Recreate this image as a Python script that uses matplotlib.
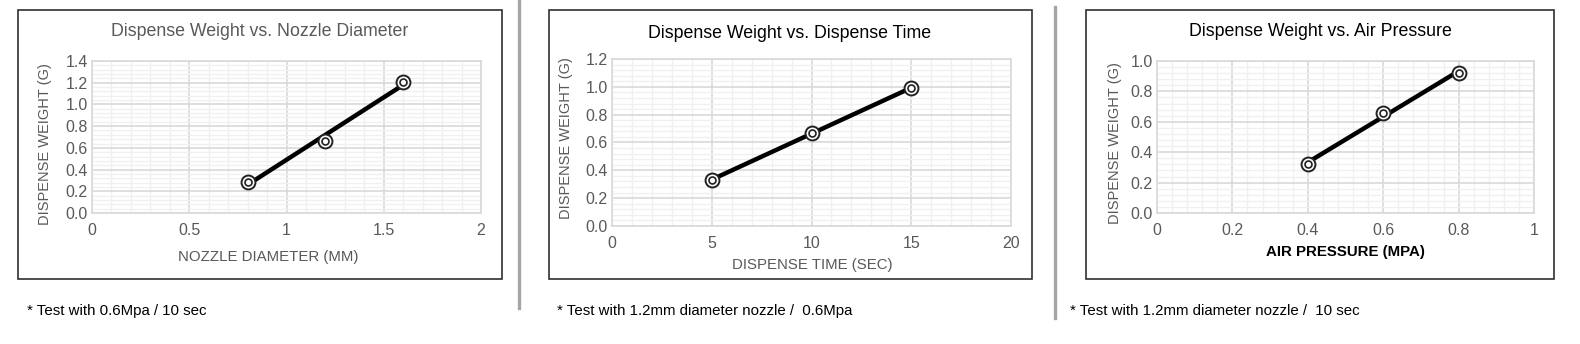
import numpy as np
import matplotlib
matplotlib.use('Agg')
import matplotlib.pyplot as plt
from matplotlib.patches import Rectangle
from matplotlib.lines import Line2D
from matplotlib.ticker import MultipleLocator

plt.rcParams['font.family'] = ['Liberation Sans', 'DejaVu Sans']

# -------------------------------------------------------------------
# Data
# -------------------------------------------------------------------
nozzle_mm = [0.8, 1.2, 1.6]
weight_by_nozzle = [0.29, 0.66, 1.21]

time_sec = [5, 10, 15]
weight_by_time = [0.33, 0.67, 0.99]

pressure_mpa = [0.4, 0.6, 0.8]
weight_by_pressure = [0.32, 0.66, 0.92]

W, H = 1580, 344
fig = plt.figure(figsize=(W / 100, H / 100), dpi=100)
fig.patch.set_facecolor('white')

GRAY_TXT = '#595959'
MAJ_GRID = '#d9d9d9'
MIN_GRID = '#f0f0f0'


def fx(px):
    return px / W


def fy(py):
    return 1 - py / H


def panel(box, area, x, y, xlim, ylim, xmaj, xmin, ymaj, ymin,
          title, title_pos, title_color, xlabel, xlabel_pos, xlabel_kw,
          ylabel_pos, note, note_pos, xfmt):
    # outer frame
    bx0, by0, bx1, by1 = box
    fig.patches.append(Rectangle((fx(bx0), fy(by1)), fx(bx1 - bx0), (by1 - by0) / H,
                                 transform=fig.transFigure, fill=False,
                                 edgecolor='#303030', linewidth=1.2))
    ax0, ay0, ax1, ay1 = area
    ax = fig.add_axes([fx(ax0), fy(ay1), fx(ax1 - ax0), (ay1 - ay0) / H])
    ax.set_xlim(*xlim)
    ax.set_ylim(*ylim)
    ax.xaxis.set_major_locator(MultipleLocator(xmaj))
    ax.xaxis.set_minor_locator(MultipleLocator(xmin))
    ax.yaxis.set_major_locator(MultipleLocator(ymaj))
    ax.yaxis.set_minor_locator(MultipleLocator(ymin))
    ax.grid(which='minor', color=MIN_GRID, linewidth=1.0)
    ax.grid(which='major', color=MAJ_GRID, linewidth=1.2)
    ax.set_axisbelow(True)
    for s in ax.spines.values():
        s.set_color(MAJ_GRID)
        s.set_linewidth(1.2)
    ax.tick_params(which='both', length=0, labelsize=11.5, labelcolor=GRAY_TXT)
    ax.tick_params(axis='x', pad=7)
    ax.tick_params(axis='y', pad=3)
    ax.yaxis.set_major_formatter(matplotlib.ticker.FormatStrFormatter('%.1f'))
    ax.xaxis.set_major_formatter(matplotlib.ticker.FuncFormatter(xfmt))

    # linear trend line over the measured range
    k, b = np.polyfit(x, y, 1)
    xs = np.array([min(x), max(x)])
    ax.plot(xs, k * xs + b, color='black', linewidth=3.2, solid_capstyle='butt', zorder=3)
    ax.plot(x, y, linestyle='none', marker='o', markersize=10, markerfacecolor='white',
            markeredgecolor='#222222', markeredgewidth=1.4, zorder=4)
    ax.plot(x, y, linestyle='none', marker='o', markersize=5, markerfacecolor='white',
            markeredgecolor='#222222', markeredgewidth=1.2, zorder=5)

    fig.text(fx(title_pos[0]), fy(title_pos[1]), title, ha='center', va='center',
             fontsize=12.8, color=title_color)
    fig.text(fx(xlabel_pos[0]), fy(xlabel_pos[1]), xlabel, ha='center', va='center',
             **xlabel_kw)
    fig.text(fx(ylabel_pos[0]), fy(ylabel_pos[1]), 'DISPENSE WEIGHT (G)', ha='center',
             va='center', rotation=90, fontsize=10.5, color=GRAY_TXT)
    fig.text(fx(note_pos[0]), fy(note_pos[1]), note, ha='left', va='center',
             fontsize=10.8, color='black')
    return ax


def num_fmt(v, pos):
    return ('%g' % round(v, 6))


panel(box=(18, 10, 502, 279), area=(92, 61, 481, 213),
      x=nozzle_mm, y=weight_by_nozzle, xlim=(0, 2), ylim=(0, 1.4),
      xmaj=0.5, xmin=0.1, ymaj=0.2, ymin=0.04,
      title='Dispense Weight vs. Nozzle Diameter', title_pos=(260, 32), title_color=GRAY_TXT,
      xlabel='NOZZLE DIAMETER (MM)', xlabel_pos=(268, 257),
      xlabel_kw=dict(fontsize=10.8, color=GRAY_TXT),
      ylabel_pos=(45, 144), note='* Test with 0.6Mpa / 10 sec', note_pos=(27, 311),
      xfmt=num_fmt)

panel(box=(549, 10, 1032, 279), area=(612, 59, 1011, 226),
      x=time_sec, y=weight_by_time, xlim=(0, 20), ylim=(0, 1.2),
      xmaj=5, xmin=1, ymaj=0.2, ymin=0.04,
      title='Dispense Weight vs. Dispense Time', title_pos=(790, 33), title_color='black',
      xlabel='DISPENSE TIME (SEC)', xlabel_pos=(812, 265),
      xlabel_kw=dict(fontsize=10.8, color=GRAY_TXT),
      ylabel_pos=(566, 138), note='* Test with 1.2mm diameter nozzle /  0.6Mpa',
      note_pos=(557, 311), xfmt=num_fmt)

panel(box=(1086, 10, 1554, 279), area=(1157, 61, 1534, 213),
      x=pressure_mpa, y=weight_by_pressure, xlim=(0, 1), ylim=(0, 1.0),
      xmaj=0.2, xmin=0.04, ymaj=0.2, ymin=0.04,
      title='Dispense Weight vs. Air Pressure', title_pos=(1320, 32), title_color='black',
      xlabel='AIR PRESSURE (MPA)', xlabel_pos=(1345, 252),
      xlabel_kw=dict(fontsize=10.8, color='black', fontweight='bold'),
      ylabel_pos=(1115, 143), note='* Test with 1.2mm diameter nozzle /  10 sec',
      note_pos=(1070, 311), xfmt=num_fmt)

# separators between panels
fig.lines.append(Line2D([fx(519), fx(519)], [fy(0), fy(308)], transform=fig.transFigure,
                        color='#a6a6a6', linewidth=2.4))
fig.lines.append(Line2D([fx(1055), fx(1055)], [fy(7), fy(318)], transform=fig.transFigure,
                        color='#a6a6a6', linewidth=2.4))

fig.savefig('out.png', dpi=100)
